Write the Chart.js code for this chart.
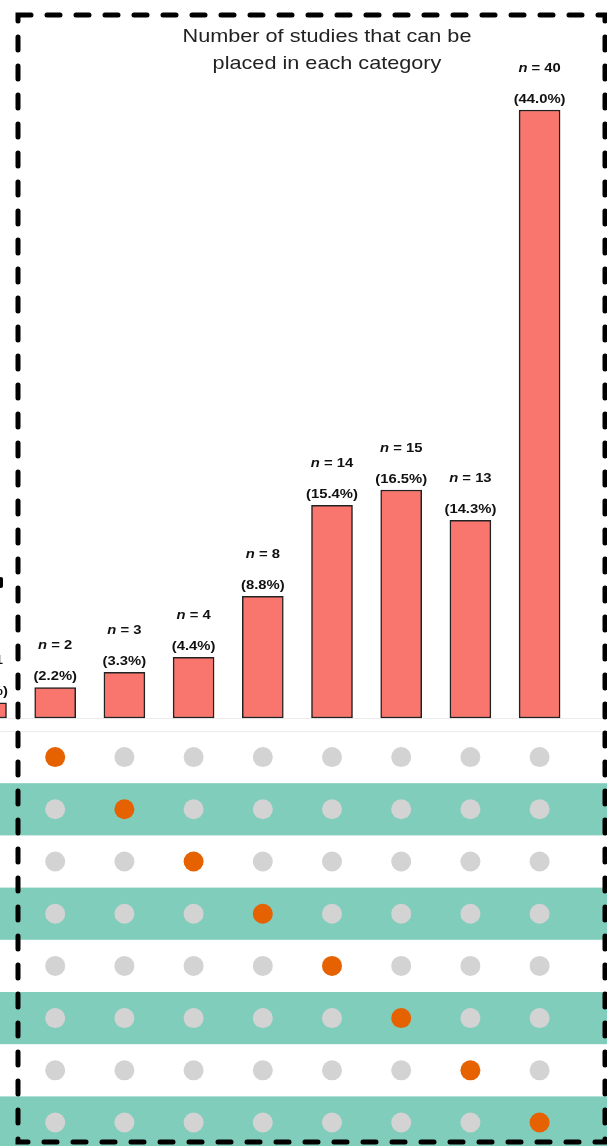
<!DOCTYPE html>
<html>
<head>
<meta charset="utf-8">
<script src="https://cdn.jsdelivr.net/npm/chart.js@4.4.0/dist/chart.umd.min.js"></script>
<style>
  body { margin: 0; background: #fff; }
  #wrap { position: relative; width: 607px; height: 1146px; overflow: hidden; }
  #barChart { position: absolute; left: 0; top: 0; }
  #dotChart { position: absolute; left: 0; top: 731px; }
  #title {
    position: absolute; left: 177px; width: 300px; top: 22px;
    text-align: center; font: 19px "Liberation Sans", Arial, sans-serif;
    line-height: 27px; color: #222; transform: scaleX(1.14);
  }
  #frame { position: absolute; left: 0; top: 0; }
</style>
</head>
<body>
<div id="wrap">
  <canvas id="barChart" width="607" height="730"></canvas>
  <canvas id="dotChart" width="607" height="415"></canvas>
  <div id="title">Number of studies that can be placed in each category</div>
  <svg id="frame" width="607" height="1146">
    <rect x="18" y="15" width="587" height="1127" fill="none" stroke="#000" stroke-width="5"
          stroke-dasharray="13 16" stroke-linecap="round"/>
    <line x1="1" y1="579" x2="1" y2="586" stroke="#000" stroke-width="4" stroke-linecap="round"/>
  </svg>
</div>
<script>
// intersection columns (0 is cut off at the left edge)
const columns = [0, 1, 2, 3, 4, 5, 6, 7, 8];
const counts = [1, 2, 3, 4, 8, 14, 15, 13, 40];
const percentLabels = ['(1.1%)', '(2.2%)', '(3.3%)', '(4.4%)', '(8.8%)', '(15.4%)', '(16.5%)', '(14.3%)', '(44.0%)'];
// matrix rows visible in the crop, and which row is highlighted for each column
const rows = [0, 1, 2, 3, 4, 5, 6, 7];
const activeRow = [-1, 0, 1, 2, 3, 4, 5, 6, 7];

const barFill = '#F8766D';
const dotOn = '#E66100';
const dotOff = '#D3D3D3';
const stripe = '#80CDBB';

const xRange = { min: 0.2023, max: 8.974 };
const stretch = 1.14;

const barLabels = {
  id: 'barLabels',
  afterDatasetsDraw(chart) {
    const ctx = chart.ctx;
    const meta = chart.getDatasetMeta(0);
    meta.data.forEach((bar, i) => {
      const x = bar.x, top = bar.y;
      ctx.save();
      ctx.translate(x, 0);
      ctx.scale(stretch, 1);
      ctx.fillStyle = '#111';
      ctx.textBaseline = 'middle';
      // "n = 40" with italic n
      const rest = ' = ' + counts[i];
      ctx.font = 'italic bold 13px "Liberation Sans", Arial, sans-serif';
      const wn = ctx.measureText('n').width;
      ctx.font = 'bold 13px "Liberation Sans", Arial, sans-serif';
      const wr = ctx.measureText(rest).width;
      const sx = -(wn + wr) / 2;
      ctx.textAlign = 'left';
      ctx.font = 'italic bold 13px "Liberation Sans", Arial, sans-serif';
      ctx.fillText('n', sx, top - 42);
      ctx.font = 'bold 13px "Liberation Sans", Arial, sans-serif';
      ctx.fillText(rest, sx + wn, top - 42);
      ctx.textAlign = 'center';
      ctx.fillText(percentLabels[i], 0, top - 11);
      ctx.restore();
    });
  },
  beforeDatasetsDraw(chart) {
    const ctx = chart.ctx;
    const y0 = Math.round(chart.scales.y.getPixelForValue(0)) + 0.5;
    ctx.save();
    ctx.strokeStyle = '#ececec';
    ctx.lineWidth = 1;
    ctx.beginPath();
    ctx.moveTo(0, y0);
    ctx.lineTo(chart.width, y0);
    ctx.stroke();
    ctx.restore();
  }
};

new Chart(document.getElementById('barChart'), {
  type: 'bar',
  data: {
    datasets: [{
      data: columns.map((c, i) => ({ x: c, y: counts[i] })),
      backgroundColor: barFill,
      borderColor: '#222',
      borderWidth: 1.5,
      borderSkipped: false,
      barThickness: 41
    }]
  },
  options: {
    responsive: false,
    animation: false,
    layout: { padding: 0, autoPadding: false },
    plugins: { legend: { display: false }, tooltip: { enabled: false } },
    scales: {
      x: { type: 'linear', offset: false, min: xRange.min, max: xRange.max, display: false },
      y: { min: -0.789, max: 47.237, display: false }
    }
  },
  plugins: [barLabels]
});

const points = [];
const colors = [];
columns.forEach((c, i) => {
  rows.forEach(r => {
    points.push({ x: c, y: r });
    colors.push(activeRow[i] === r ? dotOn : dotOff);
  });
});

const stripes = {
  id: 'stripes',
  beforeDatasetsDraw(chart) {
    const ctx = chart.ctx;
    const y = chart.scales.y;
    ctx.save();
    ctx.fillStyle = stripe;
    rows.filter(r => r % 2 === 1).forEach(r => {
      const t = y.getPixelForValue(r - 0.5);
      const b = y.getPixelForValue(r + 0.5);
      ctx.fillRect(0, t, chart.width, b - t);
    });
    ctx.strokeStyle = '#ececec';
    ctx.beginPath();
    ctx.moveTo(0, 0.5);
    ctx.lineTo(chart.width, 0.5);
    ctx.stroke();
    ctx.restore();
  }
};

new Chart(document.getElementById('dotChart'), {
  type: 'scatter',
  data: {
    datasets: [{
      data: points,
      backgroundColor: colors,
      borderWidth: 0,
      pointRadius: 10,
      pointHoverRadius: 10
    }]
  },
  options: {
    responsive: false,
    animation: false,
    layout: { padding: 0, autoPadding: false },
    plugins: { legend: { display: false }, tooltip: { enabled: false } },
    scales: {
      x: { type: 'linear', min: xRange.min, max: xRange.max, display: false },
      y: { type: 'linear', min: -0.5, max: 7.45, reverse: true, display: false }
    }
  },
  plugins: [stripes]
});
</script>
</body>
</html>
